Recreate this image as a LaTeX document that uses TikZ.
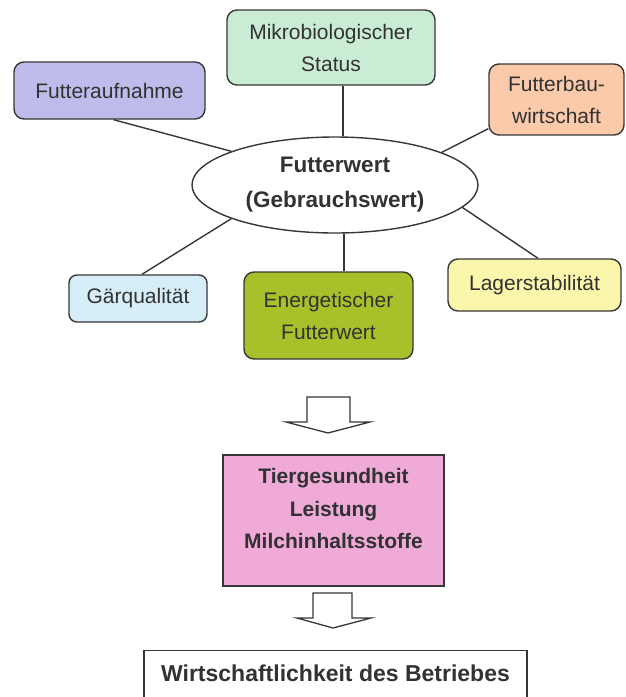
\documentclass[tikz,border=0pt]{standalone}
\usepackage{fontspec}
\setmainfont{Liberation Sans}
\usetikzlibrary{shapes.geometric,calc}
\definecolor{cline}{RGB}{55,55,55}
\definecolor{ctext}{RGB}{50,50,50}
\definecolor{cfa}{RGB}{190,188,234}
\definecolor{cmk}{RGB}{202,236,212}
\definecolor{cfb}{RGB}{250,202,170}
\definecolor{cgq}{RGB}{214,238,248}
\definecolor{cen}{RGB}{170,192,42}
\definecolor{cls}{RGB}{250,246,172}
\definecolor{cpk}{RGB}{240,170,216}
\begin{document}
\begin{tikzpicture}[x=1pt,y=-1pt,
  box/.style={draw=cline, line width=1.4pt, rounded corners=10pt, inner sep=0pt,
    align=center, text=ctext, font=\fontsize{21}{32}\selectfont},
  conn/.style={draw=cline, line width=1.4pt},
  bigarrow/.style={draw=cline, line width=1.3pt, fill=white, line join=miter}]
\useasboundingbox (0,0) rectangle (626,697);
\clip (0,0) rectangle (626,697);

\node[box, fill=cfa, minimum width=191pt, minimum height=57pt] (fa) at (109.5,90.5) {Futteraufnahme};
\node[box, fill=cmk, minimum width=208pt, minimum height=75pt] (mk) at (331,47.5) {Mikrobiologischer\\Status};
\node[box, fill=cfb, minimum width=135pt, minimum height=71pt] (fb) at (556.5,99.5) {Futterbau-\\wirtschaft};
\node[ellipse, draw=cline, line width=1.4pt, fill=white, minimum width=286pt, minimum height=96pt,
  inner sep=0pt, align=center, text=ctext, font=\bfseries\fontsize{22.5}{35}\selectfont] (el) at (335,185)
  {Futterwert\\(Gebrauchswert)};
\node[box, fill=cgq, rounded corners=8pt, minimum width=138pt, minimum height=47pt] (gq) at (138,298.5) {Gärqualität};
\node[box, fill=cen, minimum width=169pt, minimum height=87pt] (en) at (328.5,315.5) {Energetischer\\Futterwert};
\node[box, fill=cls, minimum width=173pt, minimum height=52pt] (ls) at (534.5,285) {Lagerstabilität};

\draw[conn] ([xshift=4pt]fa.south) -- (el.162.6);
\draw[conn] ([xshift=12pt]mk.south) -- ([xshift=12pt]mk.south |- el.north);
\draw[conn] ([yshift=7pt]fb.south west) -- (el.17.6);
\draw[conn] ([xshift=4pt]gq.north) -- (el.198.4);
\draw[conn] ([xshift=15.5pt]en.north) -- ([xshift=15.5pt]en.north |- el.south);
\draw[conn] (el.-10.6) -- ([xshift=3.5pt]ls.north);

\draw[bigarrow] (307,397) -- (350,397) -- (350,422) -- (370,422) -- (328,433) -- (286,422) -- (307,422) -- cycle;

\node[draw=cline, line width=1.4pt, fill=cpk, minimum width=221pt, minimum height=131pt, inner sep=0pt,
  label={[align=center, text=ctext, font=\bfseries\fontsize{21}{32.5}\selectfont, yshift=12pt]center:{Tiergesundheit\\Leistung\\Milchinhaltsstoffe}}]
  (pk) at (333.5,520.5) {};

\draw[bigarrow] (313,593) -- (352,593) -- (352,618) -- (371,618) -- (333,628) -- (297,618) -- (313,618) -- cycle;

\node[draw=cline, line width=1.4pt, anchor=north, minimum width=383pt, inner xsep=0pt, inner ysep=0pt,
  text height=31pt, text depth=60pt, text=ctext, font=\bfseries\fontsize{23}{28}\selectfont]
  (wb) at (335.5,650) {Wirtschaftlichkeit des Betriebes};
\end{tikzpicture}
\end{document}
